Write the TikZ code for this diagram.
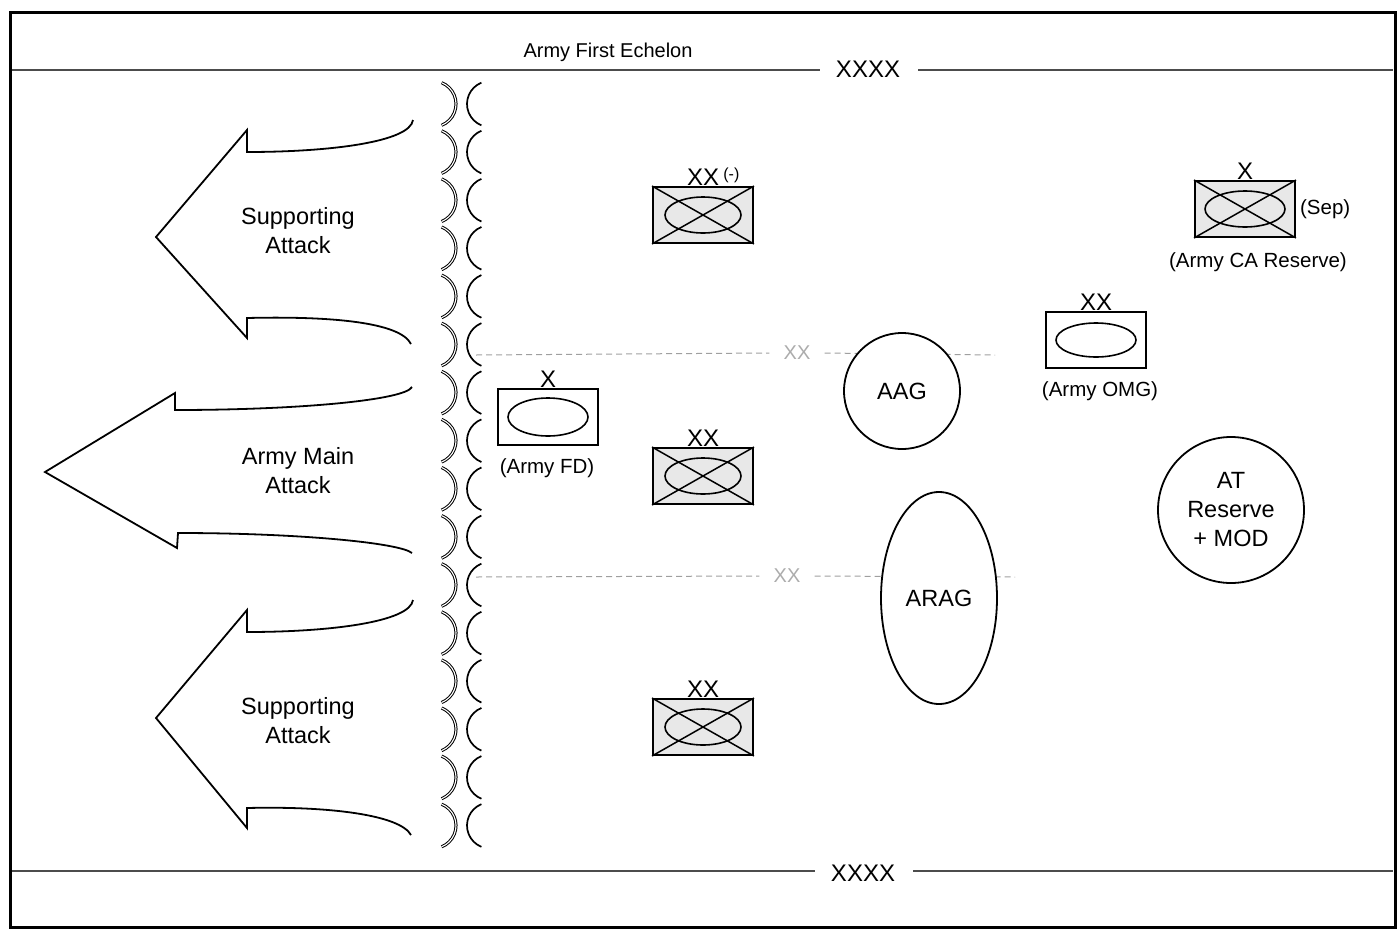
\documentclass[tikz,border=0pt]{standalone}
\usepackage{fontspec}
\setmainfont{Liberation Sans}
\usetikzlibrary{shapes.geometric}
\begin{document}
\begin{tikzpicture}[x=1pt,y=-1pt,
  lbl/.style={font=\fontsize{23.5}{29}\selectfont, align=center, inner sep=0pt},
  small/.style={font=\fontsize{20.5}{24}\selectfont, inner sep=0pt},
  tiny/.style={font=\fontsize{16}{18}\selectfont, inner sep=0pt},
  ech/.style={font=\fontsize{24}{26}\selectfont, inner sep=0pt, anchor=south},
  bigx/.style={font=\fontsize{24}{26}\selectfont, inner sep=0pt},
  gx/.style={font=\fontsize{20}{22}\selectfont, text=gray!65, inner ysep=0pt, inner xsep=14pt},
  unitbox/.style={draw, line width=1.9pt, minimum width=100pt, minimum height=56pt, inner sep=0pt},
  crossed/.style={unitbox, fill=gray!18},
  diag/.style={line width=1.5pt},
  oval/.style={line width=1.6pt},
  attack/.style={line width=1.8pt, line join=miter},
  divider/.style={line width=2.4pt, black!70},
  gline/.style={dash pattern=on 6pt off 4pt, gray!75, line width=1pt},
  frontL/.style={line width=1pt, double, double distance=1.1pt},
  frontR/.style={line width=1.7pt},
  zone/.style={draw, line width=1.8pt, fill=white, align=center, inner sep=0pt,
               font=\fontsize{23.5}{29}\selectfont}
]
\useasboundingbox (0,0) rectangle (1400,932);

% outer frame
\draw[line width=3pt] (10,12) rectangle (1395,927);

% top and bottom boundaries
\node[lbl, font=\fontsize{20}{22}\selectfont] (title) at (608,52) {Army First Echelon};
\node[bigx] (xtop) at (868,69) {XXXX};
\node[bigx] (xbot) at (863,873) {XXXX};
\coordinate (tl) at (12,70);
\coordinate (tr) at (1393,70);
\coordinate (bl) at (12,871);
\coordinate (br) at (1393,871);
\draw[divider] (tl) -- ([xshift=-16pt]xtop.west |- tl);
\draw[divider] ([xshift=18pt]xtop.east |- tr) -- (tr);
\draw[divider] (bl) -- ([xshift=-16pt]xbot.west |- bl);
\draw[divider] ([xshift=18pt]xbot.east |- br) -- (br);

% front line arcs
\foreach \i in {0,...,15}{
  \pgfmathsetmacro\yy{104+48.1*\i}
  \draw[frontL] ([shift={(68:23pt)}]433,\yy) arc[start angle=68, end angle=-68, radius=23pt];
  \draw[frontR] ([shift={(112:23pt)}]490,\yy) arc[start angle=112, end angle=248, radius=23pt];
}

% attack arrows
\draw[attack] (413,120) .. controls (410,142) and (330,152) .. (247,152) -- (247,130)
  -- (156,237) -- (247,338) -- (247,318) .. controls (330,316) and (400,322) .. (411,344);
\node[lbl] (sa1) at (298,231) {Supporting\\Attack};

\draw[attack] (412,387) .. controls (405,400) and (300,410) .. (175,410) -- (175,393)
  -- (45,472) -- (177,548) -- (178,533) .. controls (300,533) and (400,543) .. (412,553);
\node[lbl] (ma) at (298,471) {Army Main\\Attack};

\draw[attack] (413,600) .. controls (410,622) and (330,632) .. (247,632) -- (247,610)
  -- (156,718) -- (247,828) -- (247,808) .. controls (330,806) and (400,815) .. (411,835);
\node[lbl] (sa2) at (298,721) {Supporting\\Attack};

% dashed boundaries
\coordinate (g1a) at (476,355);
\node[gx] (g1x) at (797,353) {XX};
\coordinate (g1b) at (995,355);
\draw[gline] (g1a) -- (g1x.west);
\draw[gline] (g1x.east) -- (g1b);
\coordinate (g2a) at (476,577);
\node[gx] (g2x) at (787,576) {XX};
\coordinate (g2b) at (1015,577);
\draw[gline] (g2a) -- (g2x.west);
\draw[gline] (g2x.east) -- (g2b);

% artillery groups and reserve
\node[zone, circle, minimum size=116pt] (aag) at (902,391) {AAG};
\node[zone, ellipse, minimum width=116pt, minimum height=212pt] (arag) at (939,598) {ARAG};
\node[zone, circle, minimum size=146pt] (atr) at (1231,510) {AT\\Reserve\\+ MOD};

% division symbols (crossed)
\node[crossed] (dA) at (703,215) {};
\draw[diag] (dA.north west) -- (dA.south east);
\draw[diag] (dA.south west) -- (dA.north east);
\draw[oval] (dA.center) ellipse [x radius=38pt, y radius=18pt];
\node[ech] (dAe) at (dA.north) {XX};
\node[tiny, anchor=south west] (dAm) at ([xshift=4pt,yshift=3pt]dAe.south east) {(-)};

\node[crossed] (dB) at (703,476) {};
\draw[diag] (dB.north west) -- (dB.south east);
\draw[diag] (dB.south west) -- (dB.north east);
\draw[oval] (dB.center) ellipse [x radius=38pt, y radius=18pt];
\node[ech] (dBe) at (dB.north) {XX};

\node[crossed] (dC) at (703,727) {};
\draw[diag] (dC.north west) -- (dC.south east);
\draw[diag] (dC.south west) -- (dC.north east);
\draw[oval] (dC.center) ellipse [x radius=38pt, y radius=18pt];
\node[ech] (dCe) at (dC.north) {XX};

% Army CA reserve
\node[crossed] (ca) at (1245,209) {};
\draw[diag] (ca.north west) -- (ca.south east);
\draw[diag] (ca.south west) -- (ca.north east);
\draw[oval] (ca.center) ellipse [x radius=40pt, y radius=18pt];
\node[ech] (cae) at (ca.north) {X};
\node[small, anchor=west] (sep) at ([xshift=4pt]ca.east) {(Sep)};
\node[small] (cal) at (1258,262) {(Army CA Reserve)};

% Army FD
\node[unitbox] (fd) at (548,417) {};
\draw[oval] (fd.center) ellipse [x radius=40pt, y radius=19pt];
\node[ech] (fde) at (fd.north) {X};
\node[small] (fdl) at (547,468) {(Army FD)};

% Army OMG
\node[unitbox] (omg) at (1096,340) {};
\draw[oval] (omg.center) ellipse [x radius=40pt, y radius=17pt];
\node[ech] (omge) at (omg.north) {XX};
\node[small] (omgl) at (1100,391) {(Army OMG)};
\end{tikzpicture}
\end{document}
